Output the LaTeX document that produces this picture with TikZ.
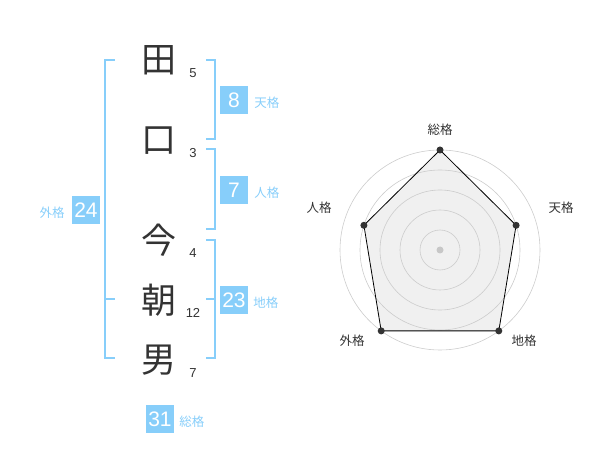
\documentclass[tikz,border=0pt]{standalone}
\usepackage{fontspec}
\setmainfont{Liberation Sans}
\newfontfamily\jpfont{Noto Sans CJK JP}
\usetikzlibrary{positioning}
\definecolor{kakublue}{HTML}{87CEFA}
\definecolor{inkgray}{HTML}{333333}
\tikzset{
	bracketline/.style={draw=kakublue,line width=1.6pt},
	kakubox/.style={fill=kakublue,text=white,minimum size=28pt,inner sep=0pt,font=\fontsize{21}{21}\selectfont},
	kakulabel/.style={text=kakublue,inner sep=0pt,font=\jpfont\fontsize{12.5}{12.5}\selectfont},
	kanji/.style={text=inkgray,inner sep=0pt,font=\jpfont\fontsize{35}{35}\selectfont},
	stroke/.style={text=inkgray,inner sep=0pt,font=\fontsize{13}{13}\selectfont},
	axislabel/.style={text=inkgray,inner sep=0pt,font=\jpfont\fontsize{12.5}{12.5}\selectfont},
	ring/.style={draw=black!20,line width=0.6pt},
	dot/.style={circle,fill=inkgray,inner sep=0pt,minimum size=7pt},
}
\begin{document}
\begin{tikzpicture}[x=1pt,y=-1pt]
		\useasboundingbox (0,0) rectangle (600,470);
		
		% name, one character per line
		\node[kanji] (ta)   at (159,60)  {田};
		\node[kanji] (kuchi) at (159,141) {口};
		\node[kanji] (ima)  at (159,240) {今};
		\node[kanji] (asa)  at (159,300) {朝};
		\node[kanji] (otoko) at (159,360) {男};
		
		\node[stroke] (s1) at (193,73)  {5};
		\node[stroke] (s2) at (193,153) {3};
		\node[stroke] (s3) at (193,253) {4};
		\node[stroke] (s4) at (193,313) {12};
		\node[stroke] (s5) at (193,373) {7};
		
		% brackets
		\draw[bracketline] (115,60) -- (105,60) -- (105,358) -- (115,358); %gaikaku bracket
		\draw[bracketline] (105,299) -- (115,299); %gaikaku tick
		\draw[bracketline] (206,60) -- (215,60) -- (215,139) -- (206,139); %tenkaku bracket
		\draw[bracketline] (206,149) -- (215,149) -- (215,229) -- (206,229); %jinkaku bracket
		\draw[bracketline] (206,240) -- (215,240) -- (215,358) -- (206,358); %chikaku bracket
		\draw[bracketline] (206,299) -- (215,299); %chikaku tick
		
		% boxes with results
		\node[kakubox] (ten)   at (234,100) {8};
		\node[kakubox] (jin)   at (234,190) {7};
		\node[kakubox] (chi)   at (234,300) {23};
		\node[kakubox] (gai)   at (86,210)  {24};
		\node[kakubox] (sou)   at (160,419) {31};
		
		\node[kakulabel,right=6pt of ten,yshift=-3pt] (tenl) {天格};
		\node[kakulabel,right=6pt of jin,yshift=-3pt] (jinl) {人格};
		\node[kakulabel,right=5pt of chi,yshift=-3pt] (chil) {地格};
		\node[kakulabel,left=7pt of gai,yshift=-3pt]  (gail) {外格};
		\node[kakulabel,right=5pt of sou,yshift=-3pt] (soul) {総格};
		
		% radar chart
		\coordinate (c) at (440,250);
		\coordinate (pSou) at (440,150);
		\coordinate (pTen) at (516.1,225.3);
		\coordinate (pChi) at (498.8,330.9);
		\coordinate (pGai) at (381.2,330.9);
		\coordinate (pJin) at (363.9,225.3);
		
		\fill[black!6] (pSou) -- (pTen) -- (pChi) -- (pGai) -- (pJin) -- cycle; %area
		\foreach \r in {20,40,...,100} { \draw[ring] (c) circle (\r pt); }
		\draw[black,line width=0.8pt] (pSou) -- (pTen) -- (pChi) -- (pGai) -- (pJin) -- cycle; %outline
		\fill[black!22] (c) circle (3.5pt); %centre
		\foreach \p in {pSou,pTen,pChi,pGai,pJin} { \node[dot] at (\p) {}; }
		
		\node[axislabel] (aSou) at (440,130) {総格};
		\node[axislabel] (aTen) at (561,208) {天格};
		\node[axislabel] (aChi) at (524,341) {地格};
		\node[axislabel] (aGai) at (352,341) {外格};
		\node[axislabel] (aJin) at (319,208) {人格};
\end{tikzpicture}
\end{document}
